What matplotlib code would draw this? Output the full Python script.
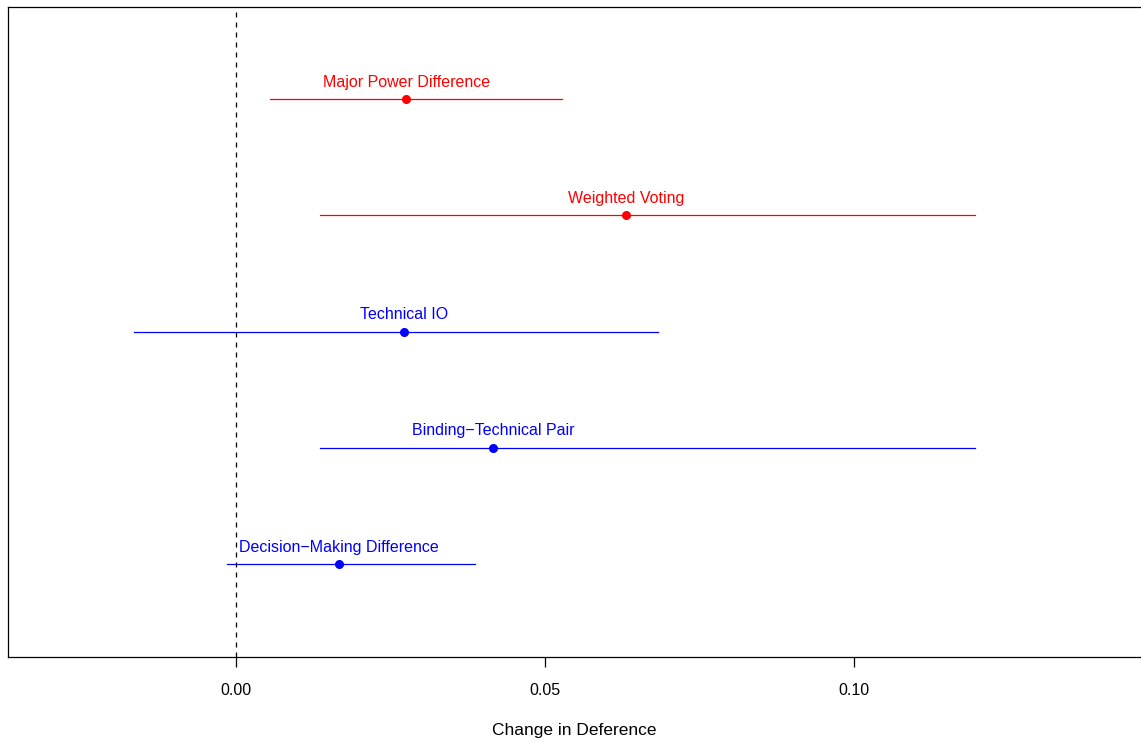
import numpy as np
import matplotlib.pyplot as plt

plt.rcParams['font.family'] = ['Liberation Sans', 'DejaVu Sans']

labels = ['Major Power Difference', 'Weighted Voting', 'Technical IO',
          'Binding\u2212Technical Pair', 'Decision\u2212Making Difference']
est = [0.0275, 0.0631, 0.0272, 0.0416, 0.0167]
lo = [0.0055, 0.0136, -0.0165, 0.0136, -0.0015]
hi = [0.0528, 0.1196, 0.0683, 0.1196, 0.0387]
colors = ['red', 'red', 'blue', 'blue', 'blue']
ypos = [5, 4, 3, 2, 1]

fig = plt.figure(figsize=(11.41, 7.46), dpi=100)
ax = fig.add_axes([8/1141, 1 - 657/746, 1 - 8/1141, (657 - 7)/746])

for i in range(len(est)):
    ax.plot([lo[i], hi[i]], [ypos[i], ypos[i]], color=colors[i], lw=0.9)
    ax.plot(est[i], ypos[i], 'o', color=colors[i], ms=5.5)
    ax.text(est[i], ypos[i] + 0.08, labels[i], color=colors[i],
            ha='center', va='bottom', fontsize=11.5)

ax.axvline(0, color='black', lw=0.9, ls=(0, (4, 4)))

ax.set_xlim(-0.0369, 0.1464)
ax.set_ylim(0.198, 5.795)
ax.set_xticks([0.0, 0.05, 0.10])
ax.set_xticklabels(['0.00', '0.05', '0.10'], fontsize=11.5)
ax.set_yticks([])
ax.tick_params(axis='x', length=7, width=0.9, pad=12)
ax.set_xlabel('Change in Deference', fontsize=12.5, labelpad=18)
for s in ax.spines.values():
    s.set_linewidth(0.9)
ax.spines['right'].set_visible(False)

fig.savefig('out.png', dpi=100)
